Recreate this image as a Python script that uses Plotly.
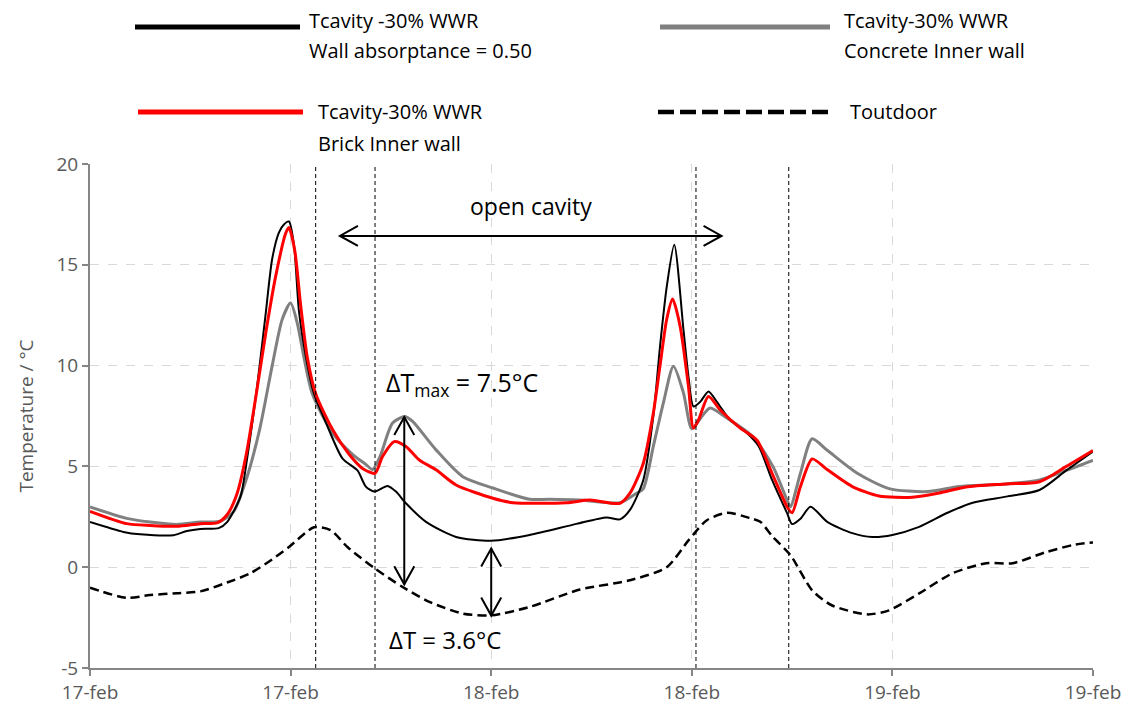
import plotly.graph_objects as go

# ---------------- data ----------------
tick_hours = [0, 12, 24, 36, 48, 60]
tick_labels = ["17-feb", "17-feb", "18-feb", "18-feb", "19-feb", "19-feb"]
y_ticks = [-5, 0, 5, 10, 15, 20]
y_tick_labels = ["-5", "0", "5", "10", "15", "20"]

names = [
    "Tcavity -30% WWR<br>Wall absorptance = 0.50",
    "Tcavity-30% WWR<br>Concrete Inner wall",
    "Tcavity-30% WWR<br>Brick Inner wall",
    "Toutdoor",
]

black_h = [0, 2, 3, 5, 5.8, 6.6, 7.7, 8.2, 9.0, 9.4, 10.0, 10.5, 10.9, 11.3, 11.6, 11.9, 12.2,
           12.5, 12.9, 13.4, 14.1, 15.1, 16.0, 16.5, 17.0, 17.8, 18.3, 18.9, 20.1, 21.9, 24.0,
           26.3, 29.1, 30.9, 31.7, 32.3, 33.1, 33.7, 34.1, 34.5, 34.95, 35.5, 35.8, 36.1, 36.5,
           37.0, 37.5, 38.3, 39.3, 40.0, 40.8, 41.7, 42.0, 42.5, 43.1, 44.1, 45.6, 46.8, 48.0,
           49.6, 51.3, 52.8, 54.8, 56.8, 58.4, 60.0]
black_t = [2.24, 1.75, 1.63, 1.59, 1.8, 1.9, 1.94, 2.24, 3.5, 5.4, 9.0, 12.5, 15.3, 16.6, 17.0, 17.15, 16.0,
           12.7, 10.5, 8.6, 7.2, 5.4, 4.8, 4.0, 3.75, 4.03, 3.75, 3.17, 2.25, 1.5, 1.31,
           1.6, 2.15, 2.47, 2.37, 2.84, 4.33, 7.5, 10.96, 13.9, 16.0, 11.8, 9.47, 7.97, 8.2,
           8.72, 8.2, 7.3, 6.66, 6.0, 4.33, 2.68, 2.14, 2.4, 3.0, 2.25, 1.69, 1.5, 1.6,
           2.0, 2.7, 3.2, 3.5, 3.83, 4.8, 5.74]

gray_h = [0, 2.2, 3.6, 5.2, 6.6, 7.8, 8.6, 9.35, 10.15, 10.9, 11.5, 12.0, 12.4, 12.8, 13.3, 14.5,
          15.7, 16.5, 16.9, 17.35, 18.1, 18.85, 19.3, 20.7, 22.3, 24.1, 26.3, 27.5, 29.3, 31.7,
          32.7, 33.1, 33.7, 34.3, 34.9, 35.5, 36.0, 36.6, 37.1, 38.1, 39.65, 40.85, 41.7, 41.9,
          42.5, 43.2, 44.1, 45.9, 47.8, 50.1, 52.0, 54.8, 56.8, 58.4, 60.0]
gray_t = [2.99, 2.42, 2.24, 2.12, 2.24, 2.28, 2.77, 4.36, 6.84, 10.0, 12.3, 13.1, 12.1, 10.4, 8.6, 6.66,
          5.6, 5.1, 4.85, 5.49, 7.15, 7.48, 7.23, 5.82, 4.49, 3.93, 3.37, 3.37, 3.33, 3.2,
          3.67, 3.9, 6.0, 8.15, 9.97, 8.65, 6.87, 7.48, 7.9, 7.4, 6.48, 5.0, 3.33, 3.0,
          4.66, 6.37, 5.8, 4.66, 3.9, 3.75, 4.0, 4.13, 4.33, 4.8, 5.3]

red_h = [0, 2.2, 3.6, 5.2, 6.6, 7.6, 8.2, 8.8, 9.35, 9.95, 10.55, 11.1, 11.7, 11.9, 12.25, 12.6,
         13.0, 13.5, 14.5, 15.5, 16.3, 17.05, 17.5, 18.2, 18.9, 19.7, 20.7, 21.9, 24.1, 25.3,
         28.5, 29.9, 31.7, 32.3, 33.1, 33.7, 34.1, 34.5, 34.85, 35.3, 35.8, 36.1, 36.4, 37.0,
         37.7, 38.9, 39.9, 40.8, 41.7, 42.0, 42.5, 43.2, 44.05, 45.6, 47.2, 49.2, 50.8, 52.4,
         54.8, 56.8, 58.4, 60.0]
red_t = [2.77, 2.16, 2.07, 2.03, 2.16, 2.2, 2.6, 3.66, 5.6, 8.6, 11.8, 14.4, 16.55, 16.85, 15.7, 13.0,
         10.4, 8.6, 6.84, 5.6, 4.9, 4.66, 5.49, 6.23, 5.99, 5.32, 4.83, 4.08, 3.42, 3.2,
         3.2, 3.33, 3.17, 3.67, 5.16, 7.65, 10.0, 12.3, 13.3, 11.96, 8.97, 6.9, 7.3, 8.47,
         7.8, 6.9, 6.3, 4.66, 3.0, 2.7, 4.0, 5.37, 4.87, 4.0, 3.53, 3.47, 3.68, 3.98,
         4.13, 4.24, 5.0, 5.79]

out_h = [0, 2.2, 3.6, 5.2, 6.6, 8.2, 9.55, 10.9, 11.9, 13.4, 14.4, 15.4, 17.05, 18.7, 20.3, 22.3,
         24.0, 26.3, 29.3, 32.3, 34.5, 35.8, 36.9, 38.1, 39.5, 40.1, 40.85, 41.9, 43.2, 44.4,
         46.5, 47.8, 49.6, 51.6, 53.6, 55.2, 57.2, 58.8, 60.0]
out_t = [-1.02, -1.52, -1.38, -1.29, -1.2, -0.76, -0.32, 0.39, 1.0, 1.98, 1.84, 1.0, -0.07, -0.98, -1.72, -2.3,
         -2.39, -1.97, -1.11, -0.65, 0.0, 1.33, 2.33, 2.7, 2.43, 2.25, 1.5, 0.6, -1.15, -1.9,
         -2.34, -2.14, -1.3, -0.3, 0.2, 0.2, 0.75, 1.1, 1.23]

event_hours = [13.5, 17.05, 36.25, 41.8]

# annotation values
open_arrow = dict(h0=14.95, h1=37.78, t=16.43)
dtmax_arrow = dict(h=18.8, t0=-0.85, t1=7.45)
dt_arrow = dict(h=24.0, t0=-2.4, t1=0.93)

# ---------------- figure ----------------
W, H = 1131, 713
L, R, T, B = 90, 38, 164, 45
PW, PH = W - L - R, H - T - B

def px(x):
    return (x - L) / PW

def py(y):
    return (H - B - y) / PH

FONT = "Open Sans"
AX_COL = "#595959"

fig = go.Figure()
series = [
    (out_h, out_t, names[3], dict(color="black", width=2.5, dash="9px,5px")),
    (gray_h, gray_t, names[1], dict(color="#808080", width=3)),
    (black_h, black_t, names[0], dict(color="black", width=2)),
    (red_h, red_t, names[2], dict(color="#ff0000", width=3)),
]
for xs, ys, nm, ln in series:
    fig.add_trace(go.Scatter(x=xs, y=ys, mode="lines", name=nm, showlegend=False,
                             line=dict(shape="spline", smoothing=0.7, **ln)))

shapes = []
for eh in event_hours:
    shapes.append(dict(type="line", xref="x", yref="paper", x0=eh, x1=eh, y0=0, y1=1,
                       line=dict(color="black", width=1, dash="4px,3px")))

arrow_line = dict(color="black", width=2)
# horizontal open-cavity arrow
shapes.append(dict(type="line", xref="x", yref="y", x0=open_arrow["h0"], x1=open_arrow["h1"],
                   y0=open_arrow["t"], y1=open_arrow["t"], line=arrow_line))
shapes.append(dict(type="path", xref="x", yref="y", xsizemode="pixel", ysizemode="pixel",
                   xanchor=open_arrow["h0"], yanchor=open_arrow["t"],
                   path="M 18,10 L 0,0 L 18,-10", line=arrow_line))
shapes.append(dict(type="path", xref="x", yref="y", xsizemode="pixel", ysizemode="pixel",
                   xanchor=open_arrow["h1"], yanchor=open_arrow["t"],
                   path="M -18,10 L 0,0 L -18,-10", line=arrow_line))
# vertical arrows
for a in (dtmax_arrow, dt_arrow):
    shapes.append(dict(type="line", xref="x", yref="y", x0=a["h"], x1=a["h"],
                       y0=a["t0"], y1=a["t1"], line=arrow_line))
    shapes.append(dict(type="path", xref="x", yref="y", xsizemode="pixel", ysizemode="pixel",
                       xanchor=a["h"], yanchor=a["t1"],
                       path="M -10,-18 L 0,0 L 10,-18", line=arrow_line))
    shapes.append(dict(type="path", xref="x", yref="y", xsizemode="pixel", ysizemode="pixel",
                       xanchor=a["h"], yanchor=a["t0"],
                       path="M -10,18 L 0,0 L 10,18", line=arrow_line))

annotations = [
    dict(x=(open_arrow["h0"] + open_arrow["h1"]) / 2, y=17.9, xref="x", yref="y",
         text="open cavity", showarrow=False, font=dict(family=FONT, size=23, color="black")),
    dict(x=17.6, y=9.1, xref="x", yref="y", xanchor="left",
         text="ΔT<sub>max</sub> = 7.5°C", showarrow=False,
         font=dict(family=FONT, size=25, color="black")),
    dict(x=17.75, y=-3.6, xref="x", yref="y", xanchor="left",
         text="ΔT = 3.6°C", showarrow=False,
         font=dict(family=FONT, size=24, color="black")),
]

# manual legend (pixel layout -> paper coords)
legend_items = [
    (names[0], dict(color="black", width=5), 135, 300, 27, 307, [21, 51]),
    (names[1], dict(color="#808080", width=5), 660, 830, 27, 842, [21, 51]),
    (names[2], dict(color="#ff0000", width=5), 138, 303, 112, 316, [112, 144]),
    (names[3], dict(color="black", width=4.5, dash="16px,6px"), 658, 830, 112, 848, [112]),
]
for nm, ln, lx0, lx1, ly, tx, tys in legend_items:
    shapes.append(dict(type="line", xref="paper", yref="paper", x0=px(lx0), x1=px(lx1),
                       y0=py(ly), y1=py(ly), line=ln))
    for line_txt, ty in zip(nm.split("<br>"), tys):
        annotations.append(dict(x=px(tx), y=py(ty), xref="paper", yref="paper",
                                xanchor="left", yanchor="middle", text=line_txt,
                                showarrow=False,
                                font=dict(family=FONT, size=20, color="black")))

fig.update_layout(
    width=W, height=H,
    margin=dict(l=L, r=R, t=T, b=B, autoexpand=False),
    paper_bgcolor="white", plot_bgcolor="white",
    shapes=shapes, annotations=annotations,
    showlegend=False,
    font=dict(family=FONT, color=AX_COL),
)
fig.update_xaxes(range=[0, 60], tickvals=tick_hours, ticktext=tick_labels, automargin=False,
                 showgrid=True, gridcolor="#d9d9d9", griddash="dash", gridwidth=1,
                 showline=True, linecolor="#868686", linewidth=2,
                 ticks="outside", ticklen=6, tickcolor="#868686", tickwidth=1.5,
                 tickfont=dict(family=FONT, size=19, color=AX_COL), zeroline=False)
fig.update_yaxes(range=[-5, 20], tickvals=y_ticks, ticktext=y_tick_labels, automargin=False,
                 showgrid=True, gridcolor="#d9d9d9", griddash="dash", gridwidth=1,
                 showline=True, linecolor="#868686", linewidth=2,
                 ticks="outside", ticklen=6, tickcolor="#868686", tickwidth=1.5,
                 tickfont=dict(family=FONT, size=19, color=AX_COL), zeroline=False,
                 title=dict(text="Temperature / °C", font=dict(family=FONT, size=19, color=AX_COL),
                            standoff=18))

fig.write_html("out.html")
